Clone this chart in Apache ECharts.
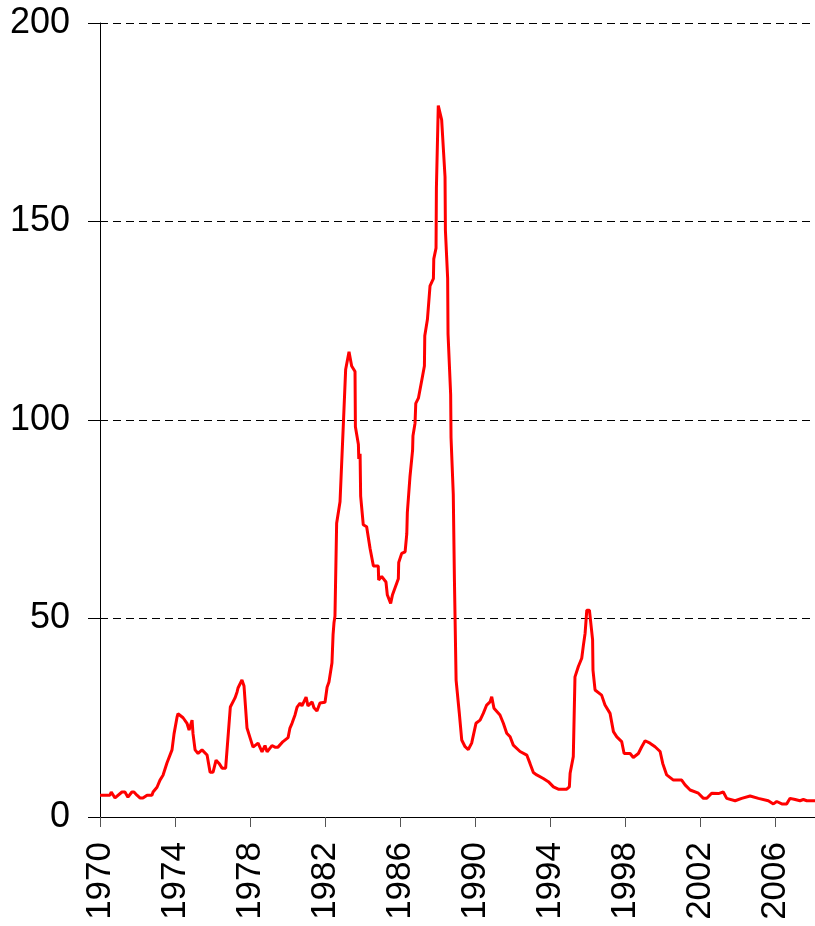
<!DOCTYPE html>
<html>
<head>
<meta charset="utf-8">
<script src="https://cdn.jsdelivr.net/npm/echarts@6/dist/echarts.min.js"></script>
<style>html,body{margin:0;padding:0;background:#fff;}#c{width:815px;height:926px;}</style>
</head>
<body>
<div id="c"></div>
<script>
var years = [
1970.0,1970.53,1970.6,1970.8,1971.17,1971.33,1971.49,1971.7,1971.81,1971.97,1972.13,1972.29,1972.51,1972.77,1972.83,
1973.04,1973.2,1973.36,1973.57,1973.84,1973.95,1974.11,1974.16,1974.43,1974.64,1974.75,1974.91,1974.96,
1975.07,1975.23,1975.44,1975.71,1975.87,1976.03,1976.19,1976.35,1976.51,1976.7,1976.95,
1977.2,1977.31,1977.36,1977.57,1977.68,1977.84,1978.0,1978.16,1978.43,1978.64,1978.8,1978.91,
1979.17,1979.33,1979.49,1979.76,1980.03,1980.13,1980.24,1980.4,1980.51,1980.67,1980.77,1980.99,
1981.09,1981.31,1981.41,1981.57,1981.73,1982.0,1982.11,1982.21,1982.37,1982.43,1982.48,
1982.53,1982.62,1982.8,1982.98,1983.1,1983.28,1983.42,1983.6,1983.62,1983.78,1983.8,1983.87,1983.9,
1984.04,1984.22,1984.4,1984.58,1984.84,1984.86,1985.02,1985.25,1985.32,1985.5,1985.6,1985.91,1985.93,
1986.09,1986.27,1986.36,1986.39,1986.53,1986.67,1986.69,1986.8,1986.84,1986.98,1987.16,1987.3,1987.32,
1987.46,1987.6,1987.78,1987.8,1987.92,1987.94,1988.04,1988.22,1988.4,1988.42,1988.54,1988.56,
1988.7,1988.72,1988.84,1988.9,1988.99,1989.16,1989.29,1989.47,1989.64,1989.82,1989.9,
1990.05,1990.27,1990.44,1990.62,1990.8,1990.89,1990.95,1991.01,1991.33,1991.51,1991.69,1991.87,
1992.04,1992.4,1992.76,1992.93,1993.11,1993.29,1993.64,1993.91,1994.18,1994.44,1994.89,1995.03,
1995.07,1995.24,1995.33,1995.51,1995.69,1995.78,1995.87,1995.96,1996.1,1996.27,1996.29,1996.4,
1996.75,1996.93,1997.2,1997.38,1997.56,1997.82,1997.95,1998.27,1998.44,1998.71,1998.89,1999.07,
1999.33,1999.6,1999.87,2000.01,2000.22,2000.58,2001.02,2001.2,2001.47,2001.91,2002.18,2002.36,
2002.62,2002.98,2003.24,2003.42,2003.87,2004.22,2004.67,2005.11,2005.64,2005.91,2006.09,2006.36,
2006.62,2006.8,2007.07,2007.33,2007.51,2007.69,2008.13
];
var values = [
5.5,5.5,6.3,4.8,6.3,6.3,5.0,6.3,6.3,5.5,4.8,4.8,5.5,5.5,6.3,
7.5,9.3,10.5,13.6,16.9,21,25.2,26,25,23.6,21.9,24.4,21,
16.9,16,16.9,15.6,11.3,11.3,14.3,13.5,12.3,12.3,27.7,
30,31.5,32.5,34.5,33,22.4,20,17.6,18.6,16.4,18,16.4,
18,17.6,17.6,19,20,22.4,23.6,25.7,27.7,28.7,28,30.2,
28,29,27.5,26.7,28.7,28.9,32.7,34,38.8,46,49,
50.6,74,79.4,99.2,112.7,117.2,113.6,112.2,98.3,93.8,90.2,91.5,80.8,
73.6,73.1,67.7,63.2,63.2,59.7,60.6,59.2,56,53.8,56,60,64.1,
66.4,66.8,71.3,76.7,85.7,92.4,96,99.2,104.2,105.5,110,113.6,121.2,
125.3,133.8,135.6,140.6,143.3,158.5,179.2,175.6,161.2,147.8,135.6,121.7,
106.4,95.6,81.2,60,34.5,26.2,19.4,17.7,17,18.6,18.6,
23.6,24.4,26.1,28.2,29,30.3,30.3,27.4,25.7,23.6,21.1,20.2,
18.1,16.5,15.6,13.5,11.2,10.6,9.7,8.9,7.6,7,7,7.6,
11,15.2,35.3,37.9,40,43.3,46.3,52.1,52.1,44.6,37,32,
30.7,28.2,26.1,21.5,20.2,19,16,16,15,16,17.7,19.2,
18.6,17.7,16.5,13.5,10.6,9.3,9.3,8.1,6.8,6,4.7,4.7,
6,5.9,6.3,4.7,4.1,4.7,5.3,4.7,4.1,3.3,3.9,3.3,
3.3,4.7,4.4,4.1,4.4,4.1,4.1
];
var xTickStart = 1970, xTickStep = 4, xMax = 2008.13;
var yTicks = [0, 50, 100, 150, 200];

var data = years.map(function (y, i) { return [y, values[i]]; });
var chart = echarts.init(document.getElementById('c'), null, {renderer: 'canvas'});
var font = 'Liberation Sans, Arial, sans-serif';
chart.setOption({
  animation: false,
  backgroundColor: '#ffffff',
  grid: {left: 100, right: 0, top: 23, bottom: 109, containLabel: false},
  xAxis: {
    type: 'value', min: xTickStart, max: xMax, interval: xTickStep,
    axisLine: {show: true, lineStyle: {color: '#000', width: 1}},
    axisTick: {show: true, length: 10, lineStyle: {color: '#555', width: 1}},
    axisLabel: {
      rotate: 90, margin: 25, color: '#000', fontSize: 35, fontFamily: font,
      showMaxLabel: false,
      formatter: function (v) { return ((v - xTickStart) % xTickStep === 0) ? String(v) : ''; }
    },
    splitLine: {show: false}
  },
  yAxis: {
    type: 'value', min: yTicks[0], max: yTicks[yTicks.length - 1], interval: 50,
    axisLine: {show: true, lineStyle: {color: '#000', width: 1}},
    axisTick: {show: true, length: 12, lineStyle: {color: '#000', width: 1}},
    axisLabel: {margin: 30, color: '#000', fontSize: 36, fontFamily: font},
    splitLine: {show: true, lineStyle: {color: '#000', width: 1, type: [8, 5]}}
  },
  series: [{
    type: 'line', data: data, showSymbol: false, symbol: 'none',
    lineStyle: {color: '#ff0000', width: 3}, clip: true
  }]
});
</script>
</body>
</html>
